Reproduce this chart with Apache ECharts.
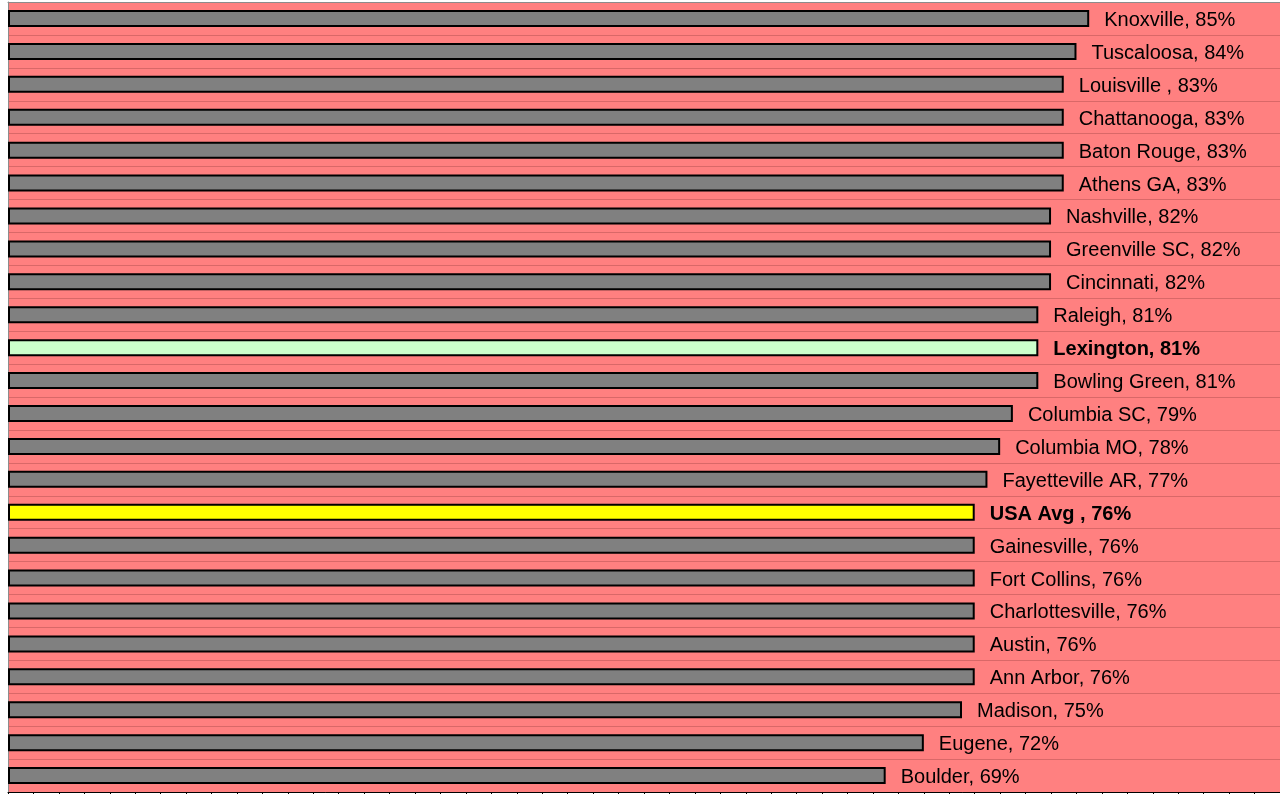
<!DOCTYPE html>
<html>
<head>
<meta charset="utf-8">
<script src="https://cdn.jsdelivr.net/npm/echarts@6/dist/echarts.min.js"></script>
<style>
  html, body { margin: 0; padding: 0; background: #fff; }
  #chart { width: 1280px; height: 794px; }
</style>
</head>
<body>
<div id="chart"></div>
<script>
// 城市及数值
var cities = ['Knoxville', 'Tuscaloosa', 'Louisville ', 'Chattanooga', 'Baton Rouge', 'Athens GA',
  'Nashville', 'Greenville SC', 'Cincinnati', 'Raleigh', 'Lexington', 'Bowling Green',
  'Columbia SC', 'Columbia MO', 'Fayetteville AR', 'USA Avg ', 'Gainesville', 'Fort Collins',
  'Charlottesville', 'Austin', 'Ann Arbor', 'Madison', 'Eugene', 'Boulder']
var values = [85, 84, 83, 83, 83, 83, 82, 82, 82, 81, 81, 81, 79, 78, 77, 76, 76, 76, 76, 76, 76, 75, 72, 69]
var highlight = { 'Lexington': '#CCFFCC', 'USA Avg ': '#FFFF00' }

var chart = echarts.init(document.getElementById('chart'))

var data = values.map(function (v, i) {
  var name = cities[i]
  var special = highlight[name]
  return {
    value: v,
    itemStyle: { color: special || '#808080' },
    label: { fontWeight: special ? 'bold' : 'normal' }
  }
})

chart.setOption({
  animation: false,
  grid: {
    left: 8,
    right: 0,
    top: 2,
    bottom: 2,
    show: true,
    backgroundColor: '#FF8080',
    borderWidth: 0
  },
  xAxis: [{
    type: 'value',
    min: 0,
    max: 100,
    interval: 10,
    axisLine: { show: true, lineStyle: { color: '#000', width: 1 } },
    axisTick: { show: true, inside: false, length: 5, lineStyle: { color: '#000' } },
    minorTick: { show: true, splitNumber: 5, length: 3, lineStyle: { color: '#000' } },
    axisLabel: { show: false },
    splitLine: { show: false }
  }, {
    // 顶部灰色边线
    type: 'value',
    position: 'top',
    min: 0,
    max: 100,
    axisLine: { show: true, lineStyle: { color: '#8c8c8c', width: 1 } },
    axisTick: { show: false },
    axisLabel: { show: false },
    splitLine: { show: false }
  }],
  yAxis: {
    type: 'category',
    inverse: true,
    data: cities,
    axisLine: { show: true, lineStyle: { color: '#8c8c8c', width: 1 } },
    axisTick: { show: false },
    axisLabel: { show: false },
    splitLine: { show: true, lineStyle: { color: '#d96868', width: 1 } }
  },
  series: [{
    type: 'bar',
    data: data,
    barWidth: 17,
    itemStyle: { borderColor: '#000', borderWidth: 2 },
    label: {
      show: true,
      position: 'right',
      distance: 14,
      offset: [1, 2],
      color: '#000',
      fontSize: 20,
      fontFamily: 'Liberation Sans, Arial, sans-serif',
      formatter: function (p) { return cities[p.dataIndex] + ', ' + p.value + '%' }
    }
  }]
})
</script>
</body>
</html>
